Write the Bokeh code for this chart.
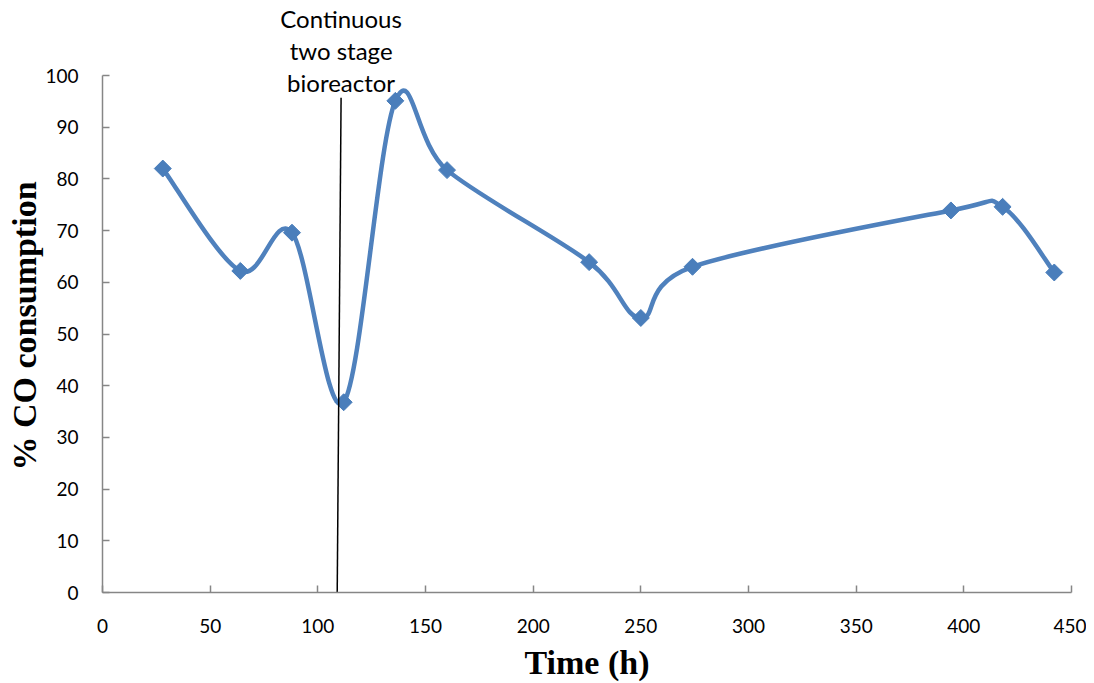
import math
from bokeh.plotting import figure
from bokeh.models import Range1d, FixedTicker, Title
from bokeh.core.properties import value
from bokeh.embed import file_html
from bokeh.resources import INLINE

time_h = [28, 64, 88, 112, 136, 160, 226, 250, 274, 394, 418, 442]
co_consumption = [82.0, 62.2, 69.6, 36.8, 95.1, 81.7, 63.9, 53.1, 63.0, 73.9, 74.6, 61.9]
x_ticks = [0, 50, 100, 150, 200, 250, 300, 350, 400, 450]
y_ticks = [0, 10, 20, 30, 40, 50, 60, 70, 80, 90, 100]
annot_x = [109.0, 110.8]
annot_y = [0.0, 95.7]
annot_lines = ["Continuous", "two stage", "bioreactor"]
annot_text_y = [111.0, 104.8, 98.6]

BLUE = "#4F81BD"
MARK = "#4A7EBB"
AXIS_C = "#868686"

# frame: x 0..450 over 969 px, y 0..100 over 517 px; extra headroom above 100 for the annotation
Y_TOP = 592 / 5.17

p = figure(width=1086, height=683, output_backend="svg", toolbar_location=None,
           x_range=Range1d(0, 450), y_range=Range1d(0, Y_TOP))
p.min_border_left = 102
p.min_border_right = 15
p.min_border_top = 0
p.min_border_bottom = 91
p.outline_line_color = None
p.grid.visible = False
p.background_fill_color = "white"
p.border_fill_color = "white"

for ax in (p.xaxis[0], p.yaxis[0]):
    ax.axis_line_color = AXIS_C
    ax.axis_line_width = 1.5
    ax.major_tick_line_color = AXIS_C
    ax.major_tick_line_width = 1.5
    ax.major_tick_in = 7
    ax.major_tick_out = 0
    ax.minor_tick_line_color = None
    ax.major_label_text_font = "Lato"
    ax.major_label_text_font_size = "19px"
    ax.major_label_text_color = "black"
    ax.axis_label_text_font = "Liberation Serif"
    ax.axis_label_text_font_style = "bold"
    ax.axis_label_text_font_size = "34px"
    ax.axis_label_text_color = "black"

p.xaxis.ticker = FixedTicker(ticks=x_ticks)
p.yaxis.ticker = FixedTicker(ticks=y_ticks)
p.yaxis.bounds = (0, 100)
p.xaxis.major_label_standoff = 26
p.yaxis.major_label_standoff = 24
p.xaxis.axis_label = "Time (h)"
p.xaxis.axis_label_standoff = 8

p.add_layout(Title(text="% CO consumption", align="left", offset=122,
                   text_font="Liberation Serif", text_font_style="bold",
                   text_font_size="34px", text_color="black", standoff=0), "left")

# Smoothed curve (Catmull-Rom style Bezier through the data points)
n = len(time_h)
x0, y0, x1, y1, cx0, cy0, cx1, cy1 = [], [], [], [], [], [], [], []
for i in range(n - 1):
    im1 = max(i - 1, 0)
    ip2 = min(i + 2, n - 1)
    x0.append(time_h[i]); y0.append(co_consumption[i])
    x1.append(time_h[i + 1]); y1.append(co_consumption[i + 1])
    cx0.append(time_h[i] + (time_h[i + 1] - time_h[im1]) / 6.0)
    cy0.append(co_consumption[i] + (co_consumption[i + 1] - co_consumption[im1]) / 6.0)
    cx1.append(time_h[i + 1] - (time_h[ip2] - time_h[i]) / 6.0)
    cy1.append(co_consumption[i + 1] - (co_consumption[ip2] - co_consumption[i]) / 6.0)
p.bezier(x0=x0, y0=y0, x1=x1, y1=y1, cx0=cx0, cy0=cy0, cx1=cx1, cy1=cy1,
         line_color=BLUE, line_width=4.5)

p.scatter(time_h, co_consumption, marker="square", size=12, angle=math.pi / 4,
          fill_color=MARK, line_color=MARK)

p.segment(x0=[annot_x[0]], y0=[annot_y[0]], x1=[annot_x[1]], y1=[annot_y[1]],
          line_color="black", line_width=1.5)

p.text(x=[annot_x[1]] * 3, y=annot_text_y, text=annot_lines, text_align="center",
       text_baseline="middle", text_font=value("Lato"), text_font_size="24px",
       text_color="black")

open("out.html", "w").write(file_html(p, INLINE))
